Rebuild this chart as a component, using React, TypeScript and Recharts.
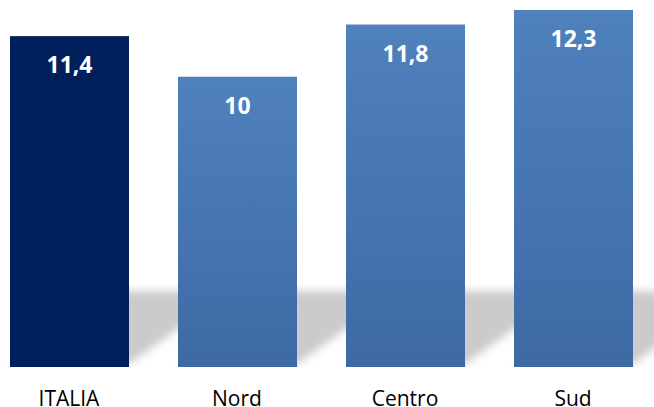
import React from "react";
import { BarChart, Bar, XAxis, YAxis, Cell, LabelList } from "recharts";

const categories = ["ITALIA", "Nord", "Centro", "Sud"];
const values = [11.4, 10, 11.8, 12.3];
const barColors = ["#00205B", "url(#blueGrad)", "url(#blueGrad)", "url(#blueGrad)"];

const data = categories.map((name, i) => ({ name, value: values[i] }));

const FONT = "'Open Sans', 'Liberation Sans', sans-serif";

const ShadowBar = (props: any) => {
  const { x, y, width, height, fill } = props;
  const baseY = y + height;
  const topY = 291;
  const dx = (baseY - topY) * 1.35;
  const pts = [
    [x + 4, baseY - 3],
    [x + width, baseY - 3],
    [x + width + dx, topY],
    [x + dx, topY],
  ]
    .map((p) => p.join(","))
    .join(" ");
  return (
    <g>
      <polygon points={pts} fill="#cbcbcb" filter="url(#shadowBlur)" />
      <rect x={x} y={y} width={width} height={height} fill={fill} />
    </g>
  );
};

const fmt = (v: any) => String(v).replace(".", ",");

export default function App() {
  return (
    <div
      style={{
        position: "absolute",
        left: 0,
        top: 0,
        width: 654,
        height: 407,
        overflow: "hidden",
        background: "#ffffff",
      }}
    >
      <div style={{ position: "absolute", left: -15, top: 0 }}>
        <BarChart
          width={672}
          height={407}
          data={data}
          margin={{ top: 10, right: 0, bottom: 0, left: 0 }}
        >
          <defs>
            <linearGradient id="blueGrad" x1="0" y1="0" x2="0" y2="1">
              <stop offset="0%" stopColor="#4F81BD" />
              <stop offset="100%" stopColor="#3D6AA3" />
            </linearGradient>
            <filter id="shadowBlur" x="-30%" y="-30%" width="160%" height="160%">
              <feGaussianBlur stdDeviation="4.5" />
            </filter>
          </defs>
          <XAxis
            dataKey="name"
            axisLine={false}
            tickLine={false}
            tickSize={0}
            tickMargin={24}
            height={40}
            interval={0}
            tick={{ fill: "#000000", fontSize: 21, fontFamily: FONT }}
          />
          <YAxis hide domain={[0, 12.3]} allowDataOverflow />
          <Bar
            dataKey="value"
            barSize={119}
            isAnimationActive={false}
            shape={ShadowBar}
          >
            {data.map((d, i) => (
              <Cell key={d.name} fill={barColors[i]} />
            ))}
            <LabelList
              dataKey="value"
              position="insideTop"
              offset={21}
              formatter={fmt}
              fill="#ffffff"
              fontSize={23}
              fontWeight="bold"
              fontFamily={FONT}
            />
          </Bar>
        </BarChart>
      </div>
    </div>
  );
}
